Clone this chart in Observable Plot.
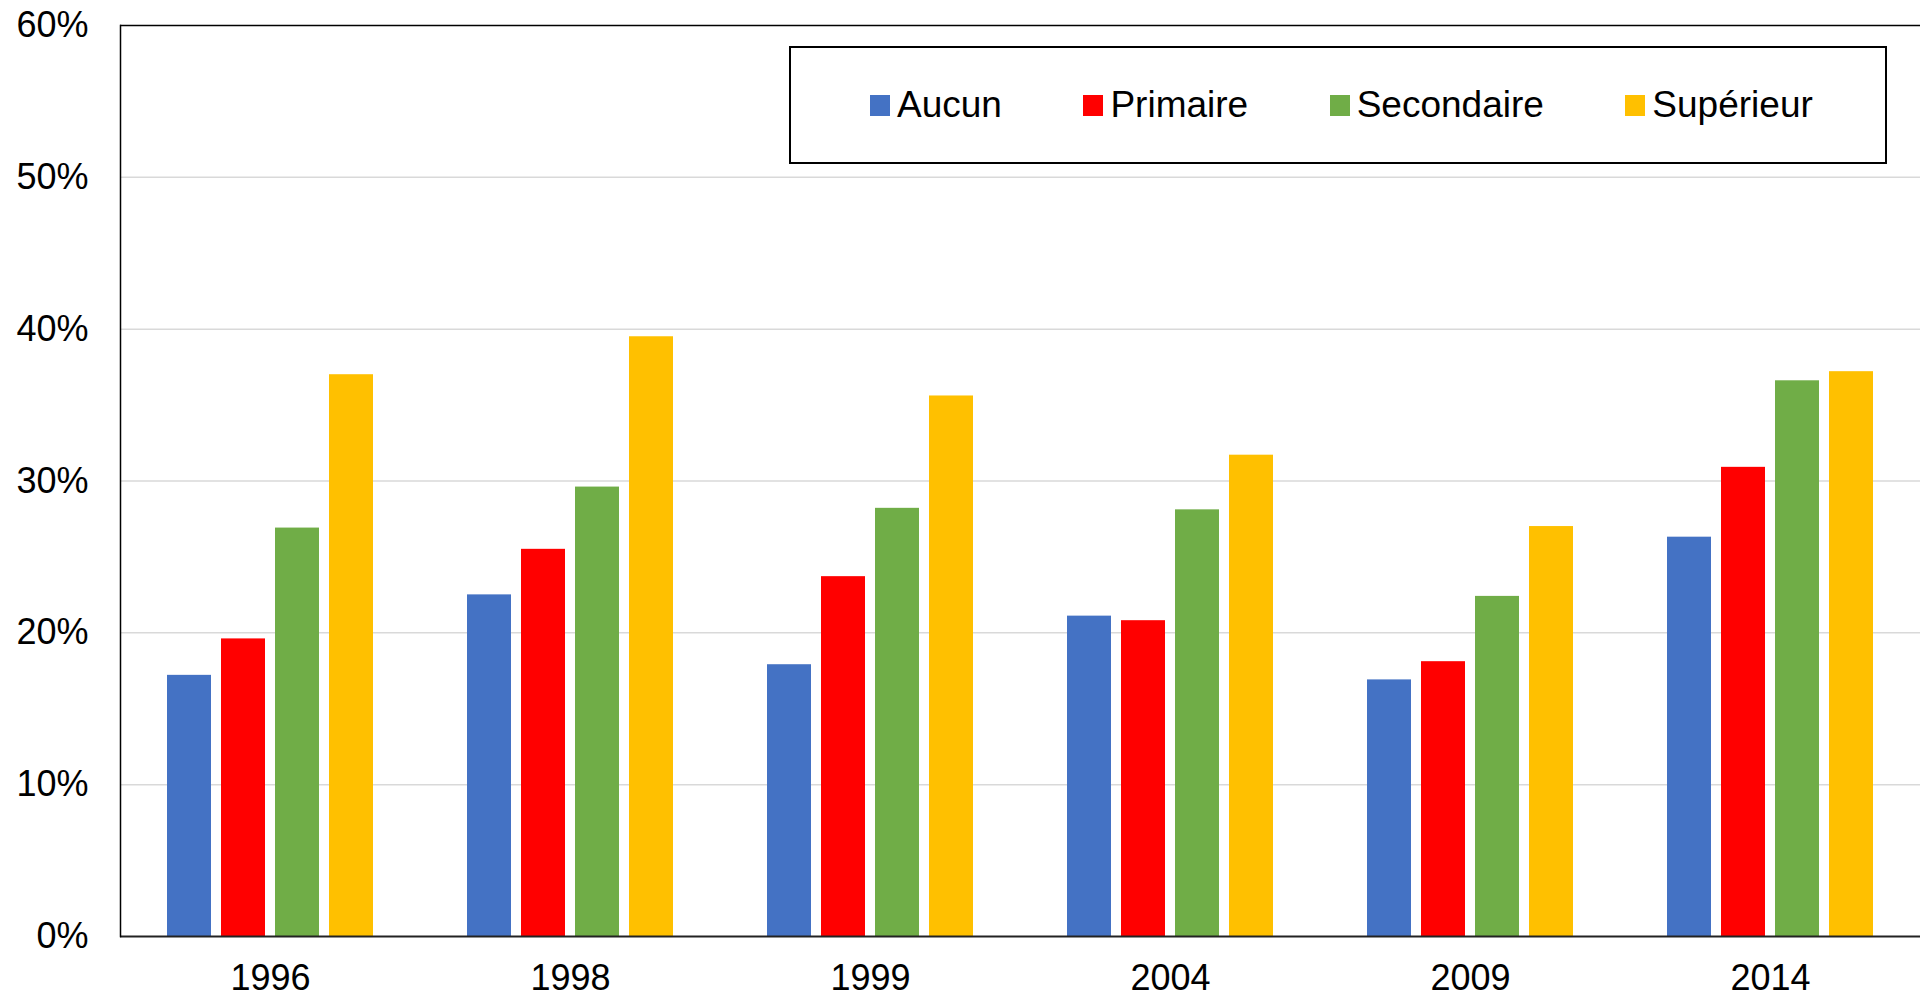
<!DOCTYPE html>
<html>
<head>
<meta charset="utf-8">
<script src="https://cdn.jsdelivr.net/npm/d3@7"></script>
<script src="https://cdn.jsdelivr.net/npm/@observablehq/plot@0.6"></script>
<style>
  html, body { margin: 0; padding: 0; background: #fff; overflow: hidden; }
  #wrap { position: relative; width: 1921px; height: 998px; font-family: "Liberation Sans", Arial, sans-serif; }
  #legend {
    position: absolute; left: 789px; top: 46px; width: 1094px; height: 114px;
    border: 2px solid #000; background: #fff; box-sizing: content-box;
    display: flex; align-items: center; padding-left: 0;
  }
  .item { display: flex; align-items: center; font-size: 37px; color: #000; white-space: nowrap; }
  .sw { width: 20px; height: 21px; margin-right: 7px; }
</style>
</head>
<body>
<div id="wrap"></div>
<script>
const years = ["1996", "1998", "1999", "2004", "2009", "2014"];
const levels = ["Aucun", "Primaire", "Secondaire", "Supérieur"];
const colors = ["#4472C4", "#FF0000", "#70AD47", "#FFC000"];
const aucun = [17.2, 22.5, 17.9, 21.1, 16.9, 26.3];
const primaire = [19.6, 25.5, 23.7, 20.8, 18.1, 30.9];
const secondaire = [26.9, 29.6, 28.2, 28.1, 22.4, 36.6];
const superieur = [37.0, 39.5, 35.6, 31.7, 27.0, 37.2];
const yTicks = [0, 10, 20, 30, 40, 50, 60];
const gridTicks = [10, 20, 30, 40, 50];

const series = [aucun, primaire, secondaire, superieur];
const data = [];
years.forEach((yr, i) => {
  levels.forEach((lv, j) => data.push({year: yr, level: lv, value: series[j][i]}));
});

const chart = Plot.plot({
  width: 1921,
  height: 998,
  marginLeft: 120,
  marginRight: 1,
  marginTop: 25,
  marginBottom: 62,
  style: {fontFamily: '"Liberation Sans", Arial, sans-serif', fontSize: "36px", color: "#000", background: "#fff"},
  fx: {domain: years, padding: 0, label: null, axis: "bottom", tickSize: 0, tickPadding: 28},
  x: {domain: levels, paddingInner: 0.185, paddingOuter: 0.857, axis: null},
  y: {domain: [0, 60], label: null, axis: null},
  color: {domain: levels, range: colors},
  marks: [
    Plot.ruleY(gridTicks, {stroke: "#d9d9d9", strokeWidth: 1.5}),
    Plot.barY(data, {fx: "year", x: "level", y: "value", fill: "level"}),
    Plot.ruleY([60], {stroke: "#000", strokeWidth: 1.5}),
    Plot.ruleY([0], {stroke: "#222", strokeWidth: 2}),
    Plot.frame({anchor: "left", facetAnchor: "left", stroke: "#000", strokeWidth: 1.5}),
    Plot.axisY(yTicks, {anchor: "left", tickSize: 0, tickPadding: 32, tickFormat: d => d + "%", fontSize: 36, label: null})
  ]
});

const wrap = document.getElementById("wrap");
wrap.appendChild(chart);

const legend = document.createElement("div");
legend.id = "legend";
const inner = document.createElement("div");
inner.style.display = "flex";
inner.style.alignItems = "center";
inner.style.marginLeft = "79px";
inner.style.gap = "81.5px";
levels.forEach((lv, j) => {
  const it = document.createElement("div");
  it.className = "item";
  const sw = document.createElement("div");
  sw.className = "sw";
  sw.style.background = colors[j];
  const tx = document.createElement("span");
  tx.textContent = lv;
  it.appendChild(sw);
  it.appendChild(tx);
  inner.appendChild(it);
});
legend.appendChild(inner);
wrap.appendChild(legend);
</script>
</body>
</html>
